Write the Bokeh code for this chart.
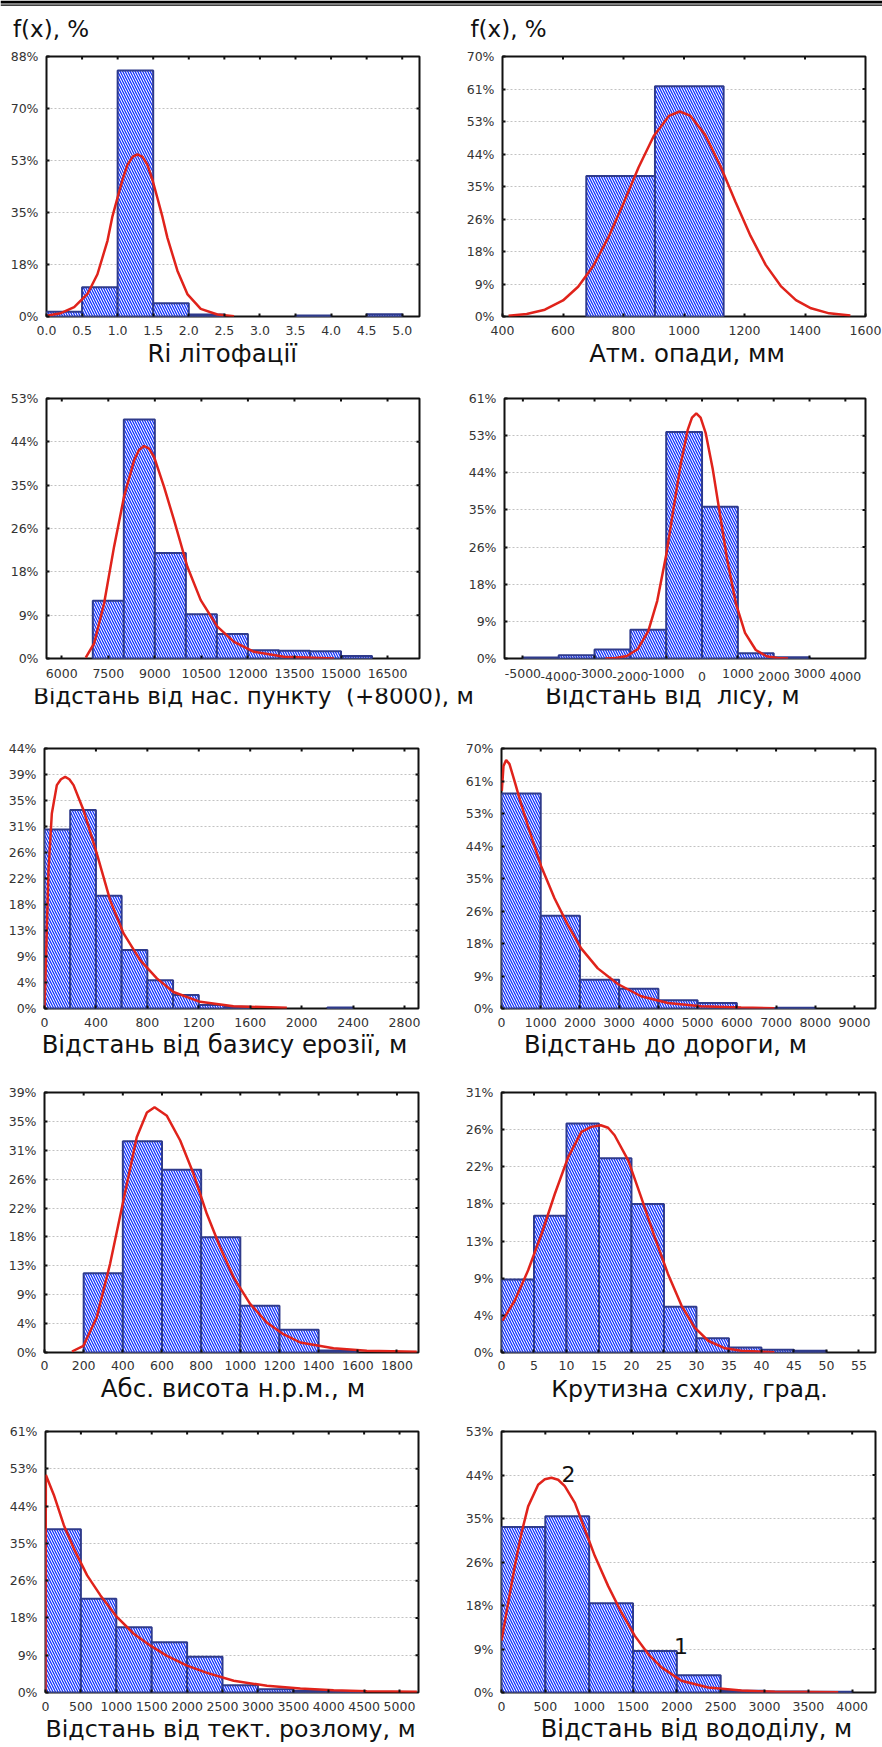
from bokeh.plotting import figure
from bokeh.models import (Range1d, FixedTicker, LinearAxis, Label, Span, Grid,
                          NumeralTickFormatter)
from bokeh.layouts import column, row
from bokeh.embed import file_html
from bokeh.resources import INLINE

# ===================== DATA =====================
# 1. Ri litofacii
ri_edges = [0.0, 0.5, 1.0, 1.5, 2.0, 2.5, 3.0, 3.5, 4.0, 4.5, 5.0]
ri_freq = [1.6, 9.9, 83.3, 4.5, 0.7, 0.0, 0.0, 0.3, 0.0, 0.8]
ri_fit_x = [0.014, 0.201, 0.389, 0.576, 0.716, 0.857, 0.927, 0.997, 1.07, 1.138, 1.21, 1.278,
            1.35, 1.419, 1.49, 1.559, 1.63, 1.699, 1.840, 1.980, 2.168, 2.402, 2.636]
ri_fit_y = [0.34, 1.12, 3.14, 7.62, 14.3, 25.6, 33.9, 40.1, 46.4, 51.3, 54.0, 54.9,
            54.0, 51.3, 46.2, 40.1, 33.7, 26.7, 15.5, 7.6, 2.6, 0.67, 0.11]
ri_xticks = [0.0, 0.5, 1.0, 1.5, 2.0, 2.5, 3.0, 3.5, 4.0, 4.5, 5.0]
ri_ylabels = ["0%", "18%", "35%", "53%", "70%", "88%"]

# 2. Atm. opady
rain_edges = [677, 904, 1131]
rain_freq = [37.8, 62.0]
rain_fit_x = [420, 480, 540, 600, 650, 700, 750, 800, 850, 900, 950, 986, 1020, 1070,
              1120, 1170, 1220, 1270, 1320, 1370, 1420, 1480, 1550]
rain_fit_y = [0.23, 0.69, 1.84, 4.32, 8.0, 13.6, 21.3, 30.5, 40.2, 48.6, 54.0, 55.2, 54.1,
              48.9, 40.6, 30.9, 21.7, 13.9, 8.2, 4.4, 2.2, 0.85, 0.24]
rain_xticks = [400, 600, 800, 1000, 1200, 1400, 1600]
rain_ylabels = ["0%", "9%", "18%", "26%", "35%", "44%", "53%", "61%", "70%"]

# 3. Distance to settlement (+8000)
settle_edges = [7000, 8000, 9000, 10000, 11000, 12000, 13000, 14000, 15000, 16000]
settle_freq = [11.75, 48.7, 21.5, 9.0, 5.0, 1.7, 1.6, 1.5, 0.5]
settle_fit_x = [6773, 7042, 7364, 7686, 8008, 8331, 8490, 8653, 8815, 8975, 9297, 9619,
                10049, 10479, 11016, 11553, 12197, 13163, 14775]
settle_fit_y = [0.2, 3.06, 11.2, 22.8, 33.0, 40.4, 42.5, 43.3, 42.8, 41.1, 35.0, 28.2,
                18.7, 11.9, 6.5, 3.4, 1.36, 0.34, 0.0]
settle_xticks = [6000, 7500, 9000, 10500, 12000, 13500, 15000, 16500]
settle_ylabels = ["0%", "9%", "18%", "26%", "35%", "44%", "53%"]

# 4. Distance to forest
forest_edges = [-5000, -4000, -3000, -2000, -1000, 0, 1000, 2000, 3000]
forest_freq = [0.24, 0.79, 2.12, 6.76, 53.4, 35.8, 1.26, 0.31]
forest_fit_x = [-2700, -2400, -2100, -1800, -1500, -1250, -1000, -800, -600, -400, -280,
                -160, -40, 100, 300, 500, 700, 950, 1200, 1500, 1800, 2100, 2400]
forest_fit_y = [0.02, 0.13, 0.58, 2.17, 6.46, 13.6, 24.4, 35.1, 45.6, 53.9, 56.8,
                57.8, 56.8, 53.2, 44.6, 34.0, 23.4, 12.8, 6.05, 2.0, 0.53, 0.11, 0.02]
forest_xticks_upper = [-5000, -3000, -1000, 1000, 3000]
forest_xticks_lower = [-4000, -2000, 0, 2000, 4000]
forest_ylabels = ["0%", "9%", "18%", "26%", "35%", "44%", "53%", "61%"]

# 5. Distance to erosion base
eros_edges = [0, 200, 400, 600, 800, 1000, 1200, 1400, 1600, 1800, 2000, 2200, 2400]
eros_freq = [30.3, 33.6, 19.1, 9.9, 4.8, 2.3, 0.6, 0.3, 0.0, 0.0, 0.0, 0.15]
eros_fit_x = [0, 13, 31, 57, 96, 128, 161, 193, 226, 303, 407, 511, 615, 744, 874, 1003,
              1211, 1470, 1885]
eros_fit_y = [0, 9.3, 23.4, 33.0, 37.8, 38.8, 39.2, 38.8, 37.8, 33.6, 26.2, 18.3, 12.7,
              8.2, 5.1, 2.8, 1.13, 0.39, 0.11]
eros_xticks = [0, 400, 800, 1200, 1600, 2000, 2400, 2800]
eros_ylabels = ["0%", "4%", "9%", "13%", "18%", "22%", "26%", "31%", "35%", "39%", "44%"]

# 6. Distance to road
road_edges = [0, 1000, 2000, 3000, 4000, 5000, 6000, 7000, 8000]
road_freq = [57.9, 25.0, 7.75, 5.3, 2.25, 1.45, 0.1, 0.2]
road_fit_x = [8, 51, 119, 204, 331, 501, 714, 1011, 1351, 1691, 2031, 2455, 2965, 3560,
              4240, 5089, 6109, 6958]
road_fit_y = [58.6, 65.3, 66.9, 65.8, 61.3, 55.0, 47.8, 38.3, 29.7, 22.5, 16.2, 10.8, 6.6,
              3.3, 1.5, 0.63, 0.27, 0.09]
road_xticks = [0, 1000, 2000, 3000, 4000, 5000, 6000, 7000, 8000, 9000]
road_ylabels = ["0%", "9%", "18%", "26%", "35%", "44%", "53%", "61%", "70%"]

# 7. Absolute altitude
alt_edges = [200, 400, 600, 800, 1000, 1200, 1400, 1600]
alt_freq = [11.9, 31.7, 27.4, 17.3, 7.0, 3.4, 0.3]
alt_fit_x = [140, 199, 267, 335, 403, 471, 523, 562, 625, 693, 761, 829, 897, 965, 1050,
             1135, 1220, 1306, 1476, 1646, 1901]
alt_fit_y = [0.15, 1.0, 5.3, 13.3, 22.8, 32.3, 36.0, 36.8, 35.5, 31.8, 26.8, 20.8, 15.8,
             11.3, 7.3, 4.5, 2.75, 1.5, 0.65, 0.25, 0.1]
alt_xticks = [0, 200, 400, 600, 800, 1000, 1200, 1400, 1600, 1800]
alt_ylabels = ["0%", "4%", "9%", "13%", "18%", "22%", "26%", "31%", "35%", "39%"]

# 8. Slope steepness
slope_edges = [0, 5, 10, 15, 20, 25, 30, 35, 40, 45, 50]
slope_freq = [8.7, 16.3, 27.3, 23.15, 17.7, 5.46, 1.71, 0.6, 0.32, 0.2]
slope_fit_x = [0.15, 2.05, 4.1, 6.15, 8.2, 10.26, 12.3, 13.8, 15.28, 16.4, 17.4, 19.5,
               21.5, 23.6, 25.6, 27.7, 29.7, 31.8, 34.4, 36.9, 42.0]
slope_fit_y = [3.8, 6.2, 9.8, 14.1, 18.9, 23.3, 26.3, 26.9, 27.1, 26.8, 25.9, 22.9,
               18.5, 13.7, 9.4, 5.6, 3.0, 1.4, 0.5, 0.2, 0.04]
slope_xticks = [0, 5, 10, 15, 20, 25, 30, 35, 40, 45, 50, 55]
slope_ylabels = ["0%", "4%", "9%", "13%", "18%", "22%", "26%", "31%"]

# 9. Distance to tectonic fault
fault_edges = [0, 500, 1000, 1500, 2000, 2500, 3000, 3500, 4000, 4500]
fault_freq = [38.35, 22.0, 15.3, 11.8, 8.4, 1.73, 0.79, 0.39, 0.24]
fault_fit_x = [0, 5, 118, 259, 400, 588, 776, 1011, 1247, 1482, 1717, 1999, 2281, 2658,
               3128, 3599, 4069, 4539, 5245]
fault_fit_y = [0, 51.1, 46.4, 39.3, 33.8, 27.5, 22.8, 17.7, 13.8, 11.0, 8.6, 6.3, 4.6,
               2.75, 1.57, 0.94, 0.55, 0.31, 0.16]
fault_xticks = [0, 500, 1000, 1500, 2000, 2500, 3000, 3500, 4000, 4500, 5000]
fault_ylabels = ["0%", "9%", "18%", "26%", "35%", "44%", "53%", "61%"]

# 10. Distance to watershed
shed_edges = [0, 500, 1000, 1500, 2000, 2500, 3000, 3500, 4000]
shed_freq = [33.6, 35.8, 18.1, 8.44, 3.51, 0.34, 0.2, 0.13]
shed_fit_x = [0, 76, 152, 228, 304, 418, 494, 570, 646, 722, 837, 951, 1065, 1217, 1369,
              1521, 1673, 1825, 2053, 2357, 2738, 3118, 3840]
shed_fit_y = [10.5, 18.2, 25.7, 32.4, 37.8, 42.2, 43.3, 43.6, 43.2, 41.9, 38.5, 33.1, 27.7,
              21.6, 16.2, 11.5, 7.8, 5.1, 2.4, 1.0, 0.4, 0.14, 0.05]
shed_xticks = [0, 500, 1000, 1500, 2000, 2500, 3000, 3500, 4000]
shed_ylabels = ["0%", "9%", "18%", "26%", "35%", "44%", "53%"]
shed_marks = ["2", "1"]

# axis titles (the wide gaps of the original are kept with a no-break space)
ylabel_text = "f(x), %"
titles = ["Ri літофації", "Атм. опади, мм",
          "Відстань від нас. пункту \u00a0(+8000), м", "Відстань від \u00a0лісу, м",
          "Відстань від базису ерозії, м", "Відстань до дороги, м",
          "Абс. висота н.р.м., м", "Крутизна схилу, град.",
          "Відстань від тект. розлому, м", "Відстань від вододілу, м"]

# ===================== STYLE / LAYOUT =====================
FONT = "DejaVu Sans"
BAR_LINE = "#2f3b8c"
HATCH = "#1030ff"
CURVE = "#e0231b"
TICK_TXT = "#333333"
FIG_W = 441
PAGE_W = 882
TEXT_DY = -10   # renderer puts alphabetic baselines ~10px low; compensate

PANELS = [
    dict(edges=ri_edges, freq=ri_freq, fx=ri_fit_x, fy=ri_fit_y, xticks=ri_xticks,
         ylabels=ri_ylabels, ymax=88.0, xr=(0, 5.243), fmt="0.0",
         fl=46, fr=22, ft=14, fh=262, fb=24, so=9),
    dict(edges=rain_edges, freq=rain_freq, fx=rain_fit_x, fy=rain_fit_y, xticks=rain_xticks,
         ylabels=rain_ylabels, ymax=70.0, xr=(400, 1600),
         fl=61, fr=17, ft=16, fh=260, fb=24, so=9),
    dict(edges=settle_edges, freq=settle_freq, fx=settle_fit_x, fy=settle_fit_y,
         xticks=settle_xticks, ylabels=settle_ylabels, ymax=53.0, xr=(5508, 17530),
         fl=46, fr=22, ft=28, fh=260, fb=30, so=10),
    dict(edges=forest_edges, freq=forest_freq, fx=forest_fit_x, fy=forest_fit_y,
         xticks=forest_xticks_upper, xticks2=forest_xticks_lower, plain=True,
         ylabels=forest_ylabels, ymax=61.3, xr=(-5513, 4562),
         fl=63, fr=17, ft=28, fh=260, fb=30, so=10),
    dict(edges=eros_edges, freq=eros_freq, fx=eros_fit_x, fy=eros_fit_y, xticks=eros_xticks,
         ylabels=eros_ylabels, ymax=44.0, xr=(0, 2909),
         fl=44, fr=23, ft=28, fh=260, fb=24, so=9),
    dict(edges=road_edges, freq=road_freq, fx=road_fit_x, fy=road_fit_y, xticks=road_xticks,
         ylabels=road_ylabels, ymax=70.0, xr=(0, 9535),
         fl=60, fr=7, ft=28, fh=260, fb=24, so=9),
    dict(edges=alt_edges, freq=alt_freq, fx=alt_fit_x, fy=alt_fit_y, xticks=alt_xticks,
         ylabels=alt_ylabels, ymax=39.0, xr=(0, 1910),
         fl=44, fr=23, ft=29, fh=261, fb=23, so=8),
    dict(edges=slope_edges, freq=slope_freq, fx=slope_fit_x, fy=slope_fit_y,
         xticks=slope_xticks, ylabels=slope_ylabels, ymax=31.0, xr=(0, 57.55),
         fl=60, fr=7, ft=30, fh=260, fb=23, so=8),
    dict(edges=fault_edges, freq=fault_freq, fx=fault_fit_x, fy=fault_fit_y,
         xticks=fault_xticks, ylabels=fault_ylabels, ymax=61.3, xr=(0, 5268),
         fl=45, fr=23, ft=26, fh=261, fb=24, so=9),
    dict(edges=shed_edges, freq=shed_freq, fx=shed_fit_x, fy=shed_fit_y, xticks=shed_xticks,
         ylabels=shed_ylabels, ymax=53.0, xr=(0, 4266),
         fl=60, fr=7, ft=25, fh=262, fb=24, so=9,
         marks=[(shed_marks[0], 120, 77.3), (shed_marks[1], 232.6, 250)]),
]

# title strips: (height, [(text index, x, baseline y, align, font size)])
STRIPS = [
    (30, [(0, 221.7, 22.8, "center", "24.5px"), (1, 686.5, 22.8, "center", "24.4px")]),
    (32, [(2, 32.7, 17.0, "left", "23px"), (3, 544.7, 17.5, "left", "24px")]),
    (30, [(4, 224.0, 22.3, "center", "24.3px"), (5, 665.0, 22.3, "center", "24.2px")]),
    (30, [(6, 232.5, 23.0, "center", "24.5px"), (7, 689.0, 23.0, "center", "23.6px")]),
    (31, [(8, 230.0, 22.3, "center", "23.7px"), (9, 696.0, 22.5, "center", "24.1px")]),
]


def to_data(cfg, px, py):
    fw = FIG_W - cfg["fl"] - cfg["fr"]
    x0, x1 = cfg["xr"]
    x = x0 + (px - cfg["fl"]) / fw * (x1 - x0)
    y = (cfg["ft"] + cfg["fh"] - py) / cfg["fh"] * cfg["ymax"]
    return x, y


def style_axis(ax, standoff=10, ticks=True):
    ax.axis_line_color = None
    ax.minor_tick_line_color = None
    ax.major_tick_in = 3 if ticks else 0
    ax.major_tick_out = 0
    ax.major_tick_line_color = "#111111" if ticks else None
    ax.major_tick_line_width = 2
    ax.major_label_standoff = standoff
    ax.major_label_text_font = FONT
    ax.major_label_text_color = TICK_TXT
    ax.major_label_text_font_size = "12.5px"


def build_panel(cfg):
    x0, x1 = cfg["xr"]
    ymax = cfg["ymax"]
    fw = FIG_W - cfg["fl"] - cfg["fr"]
    p = figure(width=FIG_W, height=cfg["ft"] + cfg["fh"] + cfg["fb"],
               x_range=Range1d(x0, x1), y_range=Range1d(0, ymax),
               x_axis_type=None, y_axis_type=None,
               output_backend="svg", toolbar_location=None,
               min_border_left=cfg["fl"], min_border_right=cfg["fr"],
               min_border_top=cfg["ft"], min_border_bottom=cfg["fb"])
    p.outline_line_color = "#111111"
    p.outline_line_width = 2
    p.background_fill_color = "white"
    p.border_fill_color = "white"

    n = len(cfg["ylabels"]) - 1
    yt = [ymax * k / n for k in range(n + 1)]
    p.add_layout(Grid(dimension=1, ticker=FixedTicker(ticks=yt),
                      grid_line_color="#c2c2c2", grid_line_dash="2 2", grid_line_width=1))

    ya = LinearAxis(ticker=FixedTicker(ticks=yt),
                    major_label_overrides={t: s for t, s in zip(yt, cfg["ylabels"])})
    style_axis(ya, standoff=8)
    p.add_layout(ya, "left")

    xa = LinearAxis(ticker=FixedTicker(ticks=cfg["xticks"]))
    if cfg.get("fmt"):
        xa.formatter = NumeralTickFormatter(format=cfg["fmt"])
    if cfg.get("plain"):
        xa.major_label_overrides = {t: str(t) for t in cfg["xticks"]}
    style_axis(xa, standoff=cfg["so"])
    p.add_layout(xa, "below")

    all_xt = list(cfg["xticks"])
    if cfg.get("xticks2"):
        xa2 = LinearAxis(ticker=FixedTicker(ticks=cfg["xticks2"]),
                         major_label_overrides={t: str(t) for t in cfg["xticks2"]})
        style_axis(xa2, standoff=-9, ticks=False)
        p.add_layout(xa2, "below")
        all_xt = sorted(all_xt + list(cfg["xticks2"]))

    # small inward tick marks on the top and right edges of the frame
    dy = 3.0 / cfg["fh"] * ymax
    dx = 3.0 / fw * (x1 - x0)
    txs = [t for t in all_xt if x0 < t < x1]
    p.segment(x0=txs, y0=[ymax] * len(txs), x1=txs, y1=[ymax - dy] * len(txs),
              line_color="#111111", line_width=2)
    rys = yt[1:-1]
    p.segment(x0=[x1] * len(rys), y0=rys, x1=[x1 - dx] * len(rys), y1=rys,
              line_color="#111111", line_width=2)

    edges, freq = cfg["edges"], cfg["freq"]
    keep = [i for i in range(len(freq)) if freq[i] > 0]
    p.quad(left=[edges[i] for i in keep], right=[edges[i + 1] for i in keep],
           bottom=0, top=[freq[i] for i in keep],
           fill_color="white", hatch_pattern="\\", hatch_color=HATCH,
           hatch_scale=5, hatch_weight=1.25,
           line_color=BAR_LINE, line_width=2)
    p.line(cfg["fx"], cfg["fy"], line_color=CURVE, line_width=2.5)

    for text, px, py in cfg.get("marks", []):
        x, y = to_data(cfg, px, py + TEXT_DY)
        p.add_layout(Label(x=x, y=y, text=text, text_align="left",
                           text_baseline="alphabetic", text_font=FONT,
                           text_font_size="22px", text_color="#111111"))
    return p


def strip(height):
    s = figure(width=PAGE_W, height=height, x_range=Range1d(0, PAGE_W),
               y_range=Range1d(height, 0), x_axis_type=None, y_axis_type=None,
               output_backend="svg", toolbar_location=None, min_border=0)
    s.outline_line_color = None
    s.background_fill_color = "white"
    s.border_fill_color = "white"
    return s


def add_text(s, text, x, y, align, size, dy=TEXT_DY):
    s.add_layout(Label(x=x, y=y + dy, text=text, text_align=align,
                       text_baseline="alphabetic", text_font=FONT,
                       text_font_size=size, text_color="#111111"))


# header strip: double rule + y-axis caption (caption kept well inside the
# strip, the arrangement under which the rule is drawn)
cap = strip(40)
cap.add_layout(Span(location=1.5, dimension="width", line_color="black", line_width=3))
cap.add_layout(Span(location=4.7, dimension="width", line_color="black", line_width=1.3))
add_text(cap, ylabel_text, 12.5, 28, "left", "23px", dy=0)
add_text(cap, ylabel_text, 470, 28, "left", "23px", dy=0)

figs = [build_panel(c) for c in PANELS]
items = [cap]
for r, (h, texts) in enumerate(STRIPS):
    items.append(row(figs[2 * r], figs[2 * r + 1]))
    st = strip(h)
    for idx, x, y, align, size in texts:
        add_text(st, titles[idx], x, y, align, size)
    items.append(st)

layout = column(*items)
open("out.html", "w").write(file_html(layout, INLINE, "Histograms"))
